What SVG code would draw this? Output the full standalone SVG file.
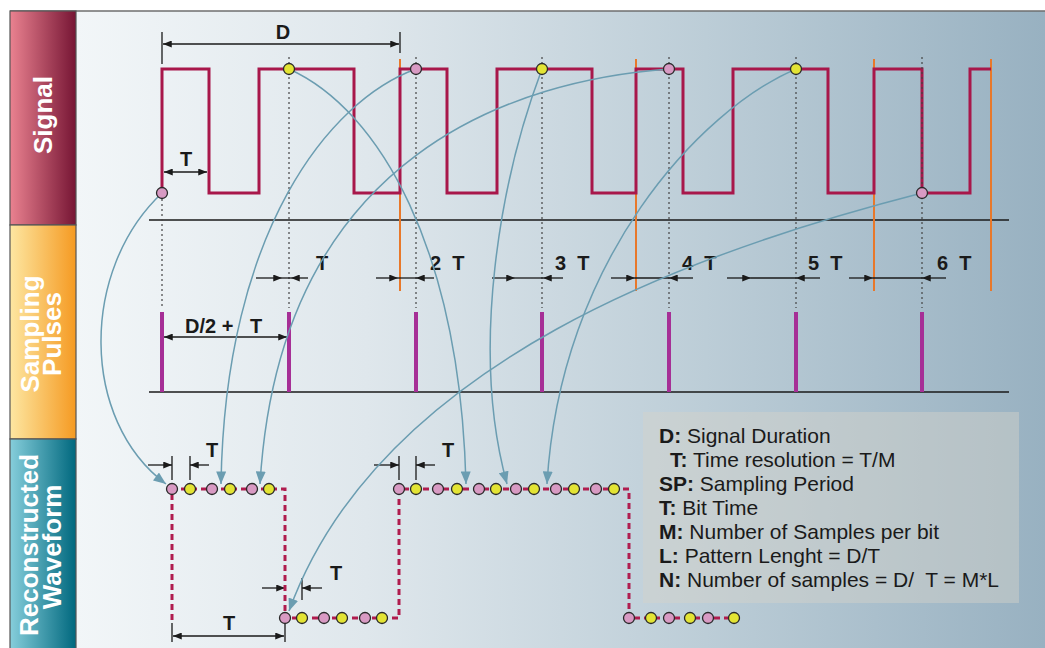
<svg xmlns="http://www.w3.org/2000/svg" width="1045" height="648" viewBox="0 0 1045 648">
<defs>
<linearGradient id="bg" x1="76" y1="0" x2="1045" y2="0" gradientUnits="userSpaceOnUse">
<stop offset="0" stop-color="#f2f6f8"/><stop offset="0.3" stop-color="#dfe7ec"/><stop offset="0.65" stop-color="#bccdd7"/><stop offset="1" stop-color="#98b1c1"/>
</linearGradient>
<linearGradient id="gSig" x1="0" y1="0" x2="1" y2="0"><stop offset="0" stop-color="#ea8290"/><stop offset="1" stop-color="#761534"/></linearGradient>
<linearGradient id="gSmp" x1="0" y1="0" x2="1" y2="0"><stop offset="0" stop-color="#fde7a2"/><stop offset="1" stop-color="#f59a22"/></linearGradient>
<linearGradient id="gRec" x1="0" y1="0" x2="1" y2="0"><stop offset="0" stop-color="#86cedb"/><stop offset="1" stop-color="#00687e"/></linearGradient>
<marker id="ah" viewBox="0 0 10 8" refX="10" refY="4" markerWidth="13" markerHeight="10" markerUnits="userSpaceOnUse" orient="auto"><path d="M0,0 L10,4 L0,8 Z" fill="#6b9db1"/></marker>
<marker id="dk" viewBox="0 0 10 8" refX="10" refY="4" markerWidth="10" markerHeight="7" markerUnits="userSpaceOnUse" orient="auto-start-reverse"><path d="M0,0 L10,4 L0,8 Z" fill="#1a1a1a"/></marker>
</defs>
<style>
.lbl{font-family:"Liberation Sans",Arial,sans-serif;font-weight:bold;font-size:26px;fill:#ffffff}
.dim{font-family:"Liberation Sans",Arial,sans-serif;font-weight:bold;font-size:20px;fill:#1a1a1a;white-space:pre}
.leg{font-family:"Liberation Sans",Arial,sans-serif;font-size:21px;fill:#1a1a1a;white-space:pre}
.leg tspan.b{font-weight:bold}
.dl{stroke:#1a1a1a;stroke-width:1.3;fill:none}
.tick{stroke:#1a1a1a;stroke-width:1.3}
.dot{stroke:#444;stroke-width:1.2;stroke-dasharray:2 3}
.org{stroke:#e8782a;stroke-width:2}
.pulse{stroke:#a62f96;stroke-width:4}
.conn{fill:none;stroke:#6b9db1;stroke-width:1.5;marker-end:url(#ah)}
.pk{fill:#d89ac3;stroke:#2a2a2a;stroke-width:1.3}
.yl{fill:#e3e434;stroke:#2a2a2a;stroke-width:1.3}
.dash{fill:none;stroke:#b01c4e;stroke-width:3;stroke-dasharray:6 4}
</style>
<rect x="0" y="0" width="1045" height="648" fill="#ffffff"/>
<rect x="76" y="11" width="969" height="637" fill="url(#bg)"/>
<line x1="10" y1="11" x2="1045" y2="11" stroke="#6e6e6e" stroke-width="1.5"/>

<g id="bar-signal"><rect x="10" y="11" width="66" height="214" fill="url(#gSig)" stroke="#555" stroke-width="1.2"/>
<text class="lbl" transform="translate(52,115) rotate(-90)" text-anchor="middle">Signal</text></g>
<g id="bar-sampling"><rect x="10" y="225" width="66" height="214" fill="url(#gSmp)" stroke="#555" stroke-width="1.2"/>
<text class="lbl" transform="translate(39,334) rotate(-90)" text-anchor="middle">Sampling</text>
<text class="lbl" transform="translate(61,334) rotate(-90)" text-anchor="middle">Pulses</text></g>
<g id="bar-recon"><rect x="10" y="439" width="66" height="212" fill="url(#gRec)" stroke="#555" stroke-width="1.2"/>
<text class="lbl" transform="translate(38,545) rotate(-90)" text-anchor="middle">Reconstructed</text>
<text class="lbl" transform="translate(61,547) rotate(-90)" text-anchor="middle">Waveform</text></g>

<g id="axes">
<line x1="149" y1="220" x2="1009" y2="220" stroke="#1a1a1a" stroke-width="1.5"/>
<line x1="149" y1="392" x2="1009" y2="392" stroke="#1a1a1a" stroke-width="1.5"/>
</g>

<g id="orange-lines">
<line class="org" x1="400" y1="59" x2="400" y2="291"/>
<line class="org" x1="636" y1="59" x2="636" y2="291"/>
<line class="org" x1="874" y1="59" x2="874" y2="291"/>
<line class="org" x1="991" y1="59" x2="991" y2="291"/>
</g>

<g id="signal">
<path d="M162,193 V69 H209 V193 H259 V69 H354 V193 H400 V69 H447 V193 H497 V69 H592 V193 H636 V69 H683 V193 H733 V69 H828 V193 H874 V69 H922 V193 H970 V69 H991" fill="none" stroke="#a8174a" stroke-width="3"/>
</g>

<g id="dotted-lines">
<line class="dot" x1="162" y1="199" x2="162" y2="308"/>
<line class="dot" x1="289" y1="57" x2="289" y2="308"/>
<line class="dot" x1="416" y1="57" x2="416" y2="308"/>
<line class="dot" x1="542" y1="57" x2="542" y2="308"/>
<line class="dot" x1="669" y1="57" x2="669" y2="308"/>
<line class="dot" x1="796" y1="57" x2="796" y2="308"/>
<line class="dot" x1="922" y1="57" x2="922" y2="308"/>
</g>

<g id="pulses">
<line class="pulse" x1="162" y1="312" x2="162" y2="392"/>
<line class="pulse" x1="289" y1="312" x2="289" y2="392"/>
<line class="pulse" x1="416" y1="312" x2="416" y2="392"/>
<line class="pulse" x1="542" y1="312" x2="542" y2="392"/>
<line class="pulse" x1="669" y1="312" x2="669" y2="392"/>
<line class="pulse" x1="796" y1="312" x2="796" y2="392"/>
<line class="pulse" x1="922" y1="312" x2="922" y2="392"/>
</g>

<g id="dimensions">
<line class="tick" x1="162" y1="32" x2="162" y2="64"/>
<line class="tick" x1="400" y1="32" x2="400" y2="53"/>
<line class="dl" x1="163" y1="44" x2="399" y2="44" marker-start="url(#dk)" marker-end="url(#dk)"/>
<text class="dim" x="283" y="39" text-anchor="middle">D</text>
<line class="dl" x1="164" y1="172" x2="207" y2="172" marker-start="url(#dk)" marker-end="url(#dk)"/>
<text class="dim" x="186" y="166" text-anchor="middle">T</text>
<line class="dl" x1="164" y1="337" x2="287" y2="337" marker-start="url(#dk)" marker-end="url(#dk)"/>
<text class="dim" x="185" y="333">D/2 +   T</text>

<line class="dl" x1="256" y1="278" x2="282" y2="278" marker-end="url(#dk)"/>
<line class="dl" x1="308" y1="278" x2="291" y2="278" marker-end="url(#dk)"/>
<line class="dl" x1="282" y1="278" x2="291" y2="278"/>
<text class="dim" x="322" y="270" text-anchor="middle">T</text>

<line class="dl" x1="376" y1="278" x2="398" y2="278" marker-end="url(#dk)"/>
<line class="dl" x1="434" y1="278" x2="416" y2="278" marker-end="url(#dk)"/>
<line class="dl" x1="398" y1="278" x2="416" y2="278"/>
<text class="dim" x="430" y="270">2  T</text>

<line class="dl" x1="492" y1="278" x2="515" y2="278" marker-end="url(#dk)"/>
<line class="dl" x1="563" y1="278" x2="543" y2="278" marker-end="url(#dk)"/>
<line class="dl" x1="515" y1="278" x2="543" y2="278"/>
<text class="dim" x="555" y="270">3  T</text>

<line class="dl" x1="611" y1="278" x2="635" y2="278" marker-end="url(#dk)"/>
<line class="dl" x1="693" y1="278" x2="669" y2="278" marker-end="url(#dk)"/>
<line class="dl" x1="635" y1="278" x2="669" y2="278"/>
<text class="dim" x="682" y="270">4  T</text>

<line class="dl" x1="727" y1="278" x2="751" y2="278" marker-end="url(#dk)"/>
<line class="dl" x1="820" y1="278" x2="796" y2="278" marker-end="url(#dk)"/>
<line class="dl" x1="751" y1="278" x2="796" y2="278"/>
<text class="dim" x="808" y="270">5  T</text>

<line class="dl" x1="849" y1="278" x2="873" y2="278" marker-end="url(#dk)"/>
<line class="dl" x1="946" y1="278" x2="922" y2="278" marker-end="url(#dk)"/>
<line class="dl" x1="873" y1="278" x2="922" y2="278"/>
<text class="dim" x="937" y="270">6  T</text>

<line class="tick" x1="172" y1="456" x2="172" y2="480"/>
<line class="tick" x1="190" y1="456" x2="190" y2="480"/>
<line class="dl" x1="148" y1="465" x2="172" y2="465" marker-end="url(#dk)"/>
<line class="dl" x1="209" y1="465" x2="190" y2="465" marker-end="url(#dk)"/>
<text class="dim" x="212" y="457" text-anchor="middle">T</text>

<line class="tick" x1="399" y1="456" x2="399" y2="480"/>
<line class="tick" x1="416" y1="456" x2="416" y2="480"/>
<line class="dl" x1="374" y1="465" x2="399" y2="465" marker-end="url(#dk)"/>
<line class="dl" x1="435" y1="465" x2="416" y2="465" marker-end="url(#dk)"/>
<text class="dim" x="448" y="457" text-anchor="middle">T</text>

<line class="tick" x1="302" y1="578" x2="302" y2="600"/>
<line class="dl" x1="262" y1="588" x2="285" y2="588" marker-end="url(#dk)"/>
<line class="dl" x1="322" y1="588" x2="302" y2="588" marker-end="url(#dk)"/>
<text class="dim" x="336" y="580" text-anchor="middle">T</text>

<line class="tick" x1="172" y1="623" x2="172" y2="642"/>
<line class="tick" x1="285" y1="623" x2="285" y2="642"/>
<line class="dl" x1="173" y1="636" x2="284" y2="636" marker-start="url(#dk)" marker-end="url(#dk)"/>
<text class="dim" x="229" y="630" text-anchor="middle">T</text>
</g>

<g id="reconstructed">
<path class="dash" d="M172,620 V489 H285 V618 H399 V489 H629 V618 H744"/>
</g>

<g id="legend">
<rect x="643" y="412" width="376" height="191" fill="#d4d2ca" fill-opacity="0.45"/>
<text class="leg" x="659" y="443"><tspan class="b">D:</tspan> Signal Duration</text>
<text class="leg" x="670" y="467"><tspan class="b">T:</tspan> Time resolution = T/M</text>
<text class="leg" x="659" y="491"><tspan class="b">SP:</tspan> Sampling Period</text>
<text class="leg" x="659" y="515"><tspan class="b">T:</tspan> Bit Time</text>
<text class="leg" x="659" y="539"><tspan class="b">M:</tspan> Number of Samples per bit</text>
<text class="leg" x="659" y="563"><tspan class="b">L:</tspan> Pattern Lenght = D/T</text>
<text class="leg" x="659" y="587"><tspan class="b">N:</tspan> Number of samples = D/  T = M*L</text>
</g>

<g id="connectors">
<path class="conn" d="M162,193 C80,270 80,420 166,484"/>
<path class="conn" d="M289,69 C380,110 460,250 466,484"/>
<path class="conn" d="M416,69 C330,100 225,230 221,484"/>
<path class="conn" d="M542,69 C500,180 470,350 507,484"/>
<path class="conn" d="M669,69 C520,80 280,150 260,484"/>
<path class="conn" d="M796,69 C700,110 560,260 547,484"/>
<path class="conn" d="M922,193 C700,250 380,360 289,611"/>
</g>

<g id="samples">
<circle class="pk" cx="162" cy="193" r="5.5"/>
<circle class="yl" cx="289" cy="69" r="5.5"/>
<circle class="pk" cx="416" cy="69" r="5.5"/>
<circle class="yl" cx="542" cy="69" r="5.5"/>
<circle class="pk" cx="669" cy="69" r="5.5"/>
<circle class="yl" cx="796" cy="69" r="5.5"/>
<circle class="pk" cx="922" cy="193" r="5.5"/>

<circle class="pk" cx="172" cy="489" r="5.5"/>
<circle class="yl" cx="190" cy="489" r="5.5"/>
<circle class="pk" cx="212" cy="489" r="5.5"/>
<circle class="yl" cx="230" cy="489" r="5.5"/>
<circle class="pk" cx="252" cy="489" r="5.5"/>
<circle class="yl" cx="269" cy="489" r="5.5"/>

<circle class="pk" cx="285" cy="618" r="5.5"/>
<circle class="yl" cx="302" cy="618" r="5.5"/>
<circle class="pk" cx="324" cy="618" r="5.5"/>
<circle class="yl" cx="342" cy="618" r="5.5"/>
<circle class="pk" cx="365" cy="618" r="5.5"/>
<circle class="yl" cx="382" cy="618" r="5.5"/>

<circle class="pk" cx="399" cy="489" r="5.5"/>
<circle class="yl" cx="416" cy="489" r="5.5"/>
<circle class="pk" cx="438" cy="489" r="5.5"/>
<circle class="yl" cx="457" cy="489" r="5.5"/>
<circle class="pk" cx="479" cy="489" r="5.5"/>
<circle class="yl" cx="496" cy="489" r="5.5"/>
<circle class="pk" cx="516" cy="489" r="5.5"/>
<circle class="yl" cx="534" cy="489" r="5.5"/>
<circle class="pk" cx="556" cy="489" r="5.5"/>
<circle class="yl" cx="574" cy="489" r="5.5"/>
<circle class="pk" cx="596" cy="489" r="5.5"/>
<circle class="yl" cx="614" cy="489" r="5.5"/>

<circle class="pk" cx="629" cy="618" r="5.5"/>
<circle class="yl" cx="651" cy="618" r="5.5"/>
<circle class="pk" cx="669" cy="618" r="5.5"/>
<circle class="yl" cx="690" cy="618" r="5.5"/>
<circle class="pk" cx="708" cy="618" r="5.5"/>
<circle class="yl" cx="734" cy="618" r="5.5"/>
</g>
</svg>
